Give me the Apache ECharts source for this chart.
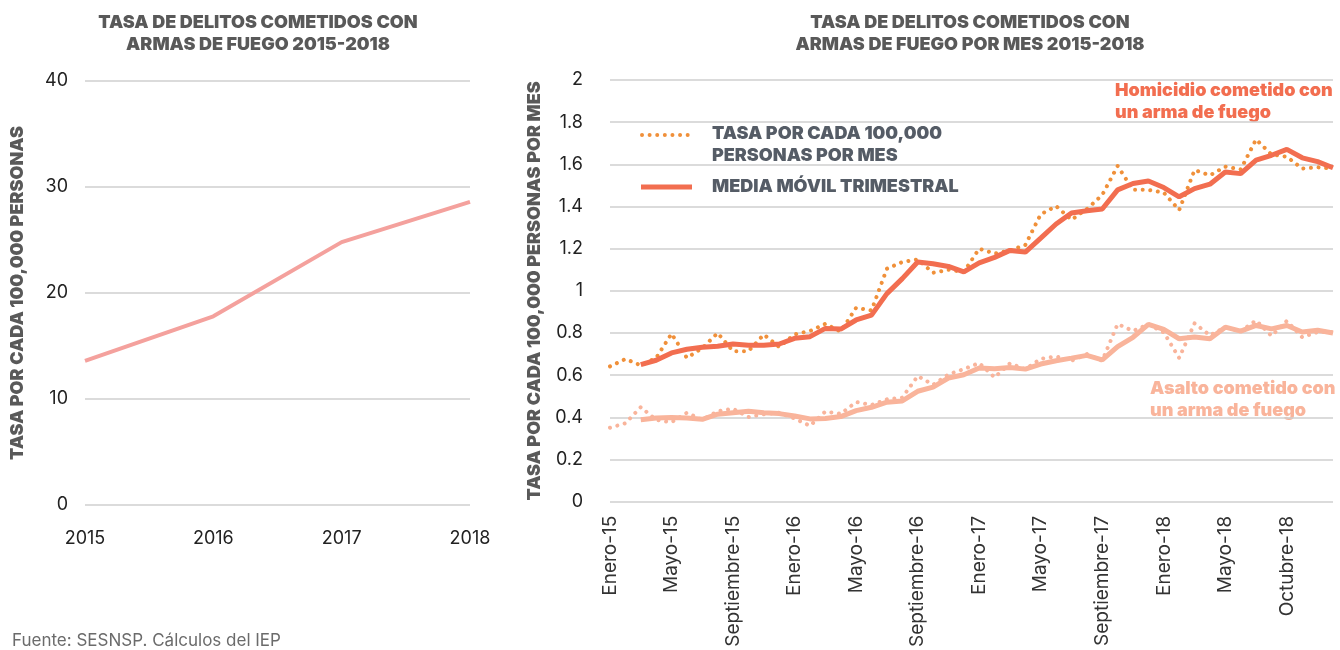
<!DOCTYPE html>
<html lang="es">
<head>
    <meta charset="UTF-8">
    <title>Tasa de delitos cometidos con armas de fuego</title>
    <script src="https://cdn.jsdelivr.net/npm/echarts@6/dist/echarts.min.js"></script>
    <style>
        html, body { margin: 0; padding: 0; background: #fff; }
        #chart { width: 1340px; height: 650px; }
    </style>
</head>
<body>
<div id="chart"></div>
<script>
    // tasa anual
    var years = ['2015', '2016', '2017', '2018'];
    var yearRate = [13.6, 17.8, 24.8, 28.6];

    // meses (etiqueta cada 4)
    var months = [
        'Enero-15', 'Febrero-15', 'Marzo-15', 'Abril-15', 'Mayo-15', 'Junio-15', 'Julio-15', 'Agosto-15',
        'Septiembre-15', 'Octubre-15', 'Noviembre-15', 'Diciembre-15',
        'Enero-16', 'Febrero-16', 'Marzo-16', 'Abril-16', 'Mayo-16', 'Junio-16', 'Julio-16', 'Agosto-16',
        'Septiembre-16', 'Octubre-16', 'Noviembre-16', 'Diciembre-16',
        'Enero-17', 'Febrero-17', 'Marzo-17', 'Abril-17', 'Mayo-17', 'Junio-17', 'Julio-17', 'Agosto-17',
        'Septiembre-17', 'Octubre-17', 'Noviembre-17', 'Diciembre-17',
        'Enero-18', 'Febrero-18', 'Marzo-18', 'Abril-18', 'Mayo-18', 'Junio-18', 'Julio-18', 'Agosto-18',
        'Octubre-18', 'Noviembre-18', 'Diciembre-18', 'Enero-19'
    ];

    var homicidioMes = [0.642, 0.677, 0.647, 0.682, 0.797, 0.682, 0.729, 0.80, 0.714, 0.714, 0.793, 0.734,
        0.794, 0.81, 0.844, 0.807, 0.92, 0.907, 1.105, 1.137, 1.149, 1.086, 1.10, 1.09,
        1.20, 1.177, 1.192, 1.218, 1.363, 1.402, 1.337, 1.388, 1.455, 1.592, 1.479, 1.479,
        1.466, 1.383, 1.573, 1.548, 1.589, 1.576, 1.718, 1.647, 1.636, 1.58, 1.586, 1.58];
    var homicidioMedia = [null, null, 0.65, 0.671, 0.706, 0.723, 0.733, 0.737, 0.748, 0.742, 0.742, 0.748,
        0.775, 0.783, 0.822, 0.819, 0.862, 0.885, 0.987, 1.058, 1.137, 1.129, 1.116, 1.09,
        1.133, 1.159, 1.192, 1.184, 1.25, 1.317, 1.369, 1.38, 1.388, 1.479, 1.509, 1.521,
        1.49, 1.446, 1.485, 1.506, 1.564, 1.556, 1.62, 1.643, 1.671, 1.631, 1.613, 1.584];
    var asaltoMes = [0.351, 0.372, 0.449, 0.388, 0.377, 0.422, 0.389, 0.429, 0.441, 0.402, 0.415, 0.422,
        0.395, 0.36, 0.428, 0.417, 0.473, 0.459, 0.486, 0.494, 0.596, 0.555, 0.604, 0.629,
        0.658, 0.59, 0.656, 0.629, 0.678, 0.689, 0.669, 0.70, 0.669, 0.843, 0.81, 0.841,
        0.803, 0.682, 0.846, 0.789, 0.828, 0.809, 0.86, 0.787, 0.858, 0.78, 0.805, 0.805];
    var asaltoMedia = [null, null, 0.389, 0.397, 0.399, 0.397, 0.391, 0.415, 0.422, 0.429, 0.422, 0.418,
        0.407, 0.393, 0.395, 0.404, 0.432, 0.448, 0.472, 0.478, 0.524, 0.544, 0.587, 0.602,
        0.634, 0.631, 0.637, 0.629, 0.653, 0.669, 0.681, 0.694, 0.673, 0.736, 0.78, 0.841,
        0.817, 0.773, 0.781, 0.773, 0.828, 0.809, 0.836, 0.82, 0.836, 0.805, 0.813, 0.80];

    var FONT = 'Inter, "Open Sans", sans-serif';
    var GRAY = '#595959';
    var LEG = '#555c66';
    var C_HOM_DOT = '#f0903a';
    var C_HOM = '#f26e50';
    var C_ASA = '#f9b49b';
    var C_YEAR = '#f4a19d';

    var chartDom = document.getElementById('chart');
    var myChart = echarts.init(chartDom);

    function boldText(x, y, txt, color, align) {
        return {
            type: 'text', x: x, y: y,
            style: {
                text: txt, fill: color, font: '900 18px ' + FONT,
                textAlign: align || 'left', textVerticalAlign: 'middle', lineHeight: 22
            }
        };
    }

    var dotted = {width: 4, type: [0.01, 7.6], cap: 'round'};

    var option = {
        animation: false,
        grid: [
            {left: 85, right: 870, top: 81, bottom: 145},
            {left: 610, right: 7, top: 80, bottom: 147}
        ],
        xAxis: [{
            gridIndex: 0, type: 'category', data: years, boundaryGap: false,
            axisLine: {show: false}, axisTick: {show: false},
            axisLabel: {color: '#222', fontFamily: FONT, fontSize: 18, margin: 25}
        }, {
            gridIndex: 1, type: 'category', data: months, boundaryGap: false,
            axisLine: {show: false}, axisTick: {show: false},
            axisLabel: {color: '#333', fontFamily: FONT, fontSize: 19, rotate: 90, interval: 3, margin: 14}
        }],
        yAxis: [{
            gridIndex: 0, type: 'value', min: 0, max: 40, interval: 10,
            axisLine: {show: false}, axisTick: {show: false},
            axisLabel: {color: '#222', fontFamily: FONT, fontSize: 18, margin: 17},
            splitLine: {lineStyle: {color: '#cfcfcf', width: 1.5}},
            name: 'TASA POR CADA 100,000 PERSONAS', nameLocation: 'middle', nameRotate: 90, nameGap: 58,
            nameTextStyle: {color: GRAY, fontFamily: FONT, fontSize: 18, fontWeight: 900}
        }, {
            gridIndex: 1, type: 'value', min: 0, max: 2, interval: 0.2,
            axisLine: {show: false}, axisTick: {show: false},
            axisLabel: {color: '#222', fontFamily: FONT, fontSize: 18, margin: 27},
            splitLine: {lineStyle: {color: '#cfcfcf', width: 1.5}},
            name: 'TASA POR CADA 100,000 PERSONAS POR MES', nameLocation: 'middle', nameRotate: 90, nameGap: 66,
            nameTextStyle: {color: GRAY, fontFamily: FONT, fontSize: 18, fontWeight: 900}
        }],
        series: [{
            type: 'line', xAxisIndex: 0, yAxisIndex: 0, data: yearRate, symbol: 'none',
            lineStyle: {color: C_YEAR, width: 4}
        }, {
            type: 'line', xAxisIndex: 1, yAxisIndex: 1, data: asaltoMes, symbol: 'none',
            lineStyle: Object.assign({color: C_ASA}, dotted)
        }, {
            type: 'line', xAxisIndex: 1, yAxisIndex: 1, data: asaltoMedia, symbol: 'none',
            lineStyle: {color: C_ASA, width: 5}
        }, {
            type: 'line', xAxisIndex: 1, yAxisIndex: 1, data: homicidioMes, symbol: 'none',
            lineStyle: Object.assign({color: C_HOM_DOT}, dotted)
        }, {
            type: 'line', xAxisIndex: 1, yAxisIndex: 1, data: homicidioMedia, symbol: 'none',
            lineStyle: {color: C_HOM, width: 5}
        }],
        graphic: [
            boldText(258, 34, 'TASA DE DELITOS COMETIDOS CON\nARMAS DE FUEGO 2015-2018', GRAY, 'center'),
            boldText(970, 34, 'TASA DE DELITOS COMETIDOS CON\nARMAS DE FUEGO POR MES 2015-2018', GRAY, 'center'),
            // leyenda
            {type: 'line', shape: {x1: 642, y1: 135, x2: 692, y2: 135},
                style: {stroke: C_HOM_DOT, lineWidth: 4, lineDash: [0.01, 7.6], lineCap: 'round'}},
            boldText(712, 145, 'TASA POR CADA 100,000\nPERSONAS POR MES', LEG),
            {type: 'line', shape: {x1: 641, y1: 187, x2: 692, y2: 187},
                style: {stroke: C_HOM, lineWidth: 5}},
            boldText(712, 187, 'MEDIA MÓVIL TRIMESTRAL', LEG),
            // etiquetas de series
            boldText(1115, 102, 'Homicidio cometido con\nun arma de fuego', C_HOM),
            boldText(1150, 400, 'Asalto cometido con\nun arma de fuego', C_ASA),
            {type: 'text', x: 12, y: 641,
                style: {text: 'Fuente: SESNSP. Cálculos del IEP', fill: '#6b6b6b', font: '17px ' + FONT,
                    textVerticalAlign: 'middle'}}
        ]
    };
    myChart.setOption(option);
</script>
</body>
</html>
